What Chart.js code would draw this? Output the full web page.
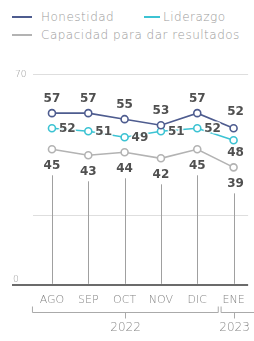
<!DOCTYPE html>
<html><head><meta charset="utf-8">
<script src="https://cdn.jsdelivr.net/npm/chart.js@4"></script>
<style>
html,body{margin:0;padding:0;background:#fff;overflow:hidden;}
#wrap{position:relative;width:254px;height:341px;}
canvas{position:absolute;left:0;top:0;}
.lg{position:absolute;font-family:'DejaVu Sans';font-weight:200;font-size:12px;letter-spacing:0.5px;color:#9a9a9a;white-space:nowrap;line-height:14px;}
.sw{position:absolute;height:2px;}
</style></head>
<body><div id="wrap">
<div class="sw" style="left:12px;top:16px;width:20px;background:#4e5c8f"></div>
<div class="lg" style="left:41px;top:10px">Honestidad</div>
<div class="sw" style="left:144px;top:16px;width:16px;background:#3cc3d3"></div>
<div class="lg" style="left:163px;top:10px">Liderazgo</div>
<div class="sw" style="left:12px;top:34px;width:20px;background:#b3b3b3"></div>
<div class="lg" style="left:41px;top:28px">Capacidad para dar resultados</div>
<canvas id="c" width="254" height="341"></canvas>
</div>
<script>
const months = ['AGO','SEP','OCT','NOV','DIC','ENE'];
const honestidad = [57,57,55,53,57,52];
const liderazgo = [52,51,49,51,52,48];
const capacidad = [45,43,44,42,45,39];
const yTicks = [0, 70/3, 70];
const yLabels = {0:'0', 70:'70'};
const years = [{label:'2022', from:0, to:4}, {label:'2023', from:5, to:5}];

const toPts = arr => arr.map((v,i)=>({x:i,y:v}));
const C1='#4e5c8f', C2='#3cc3d3', C3='#b3b3b3';

const overlay = {
  id:'overlay',
  beforeDatasetsDraw(chart){
    const ctx=chart.ctx, x=chart.scales.x, y=chart.scales.y;
    ctx.save();
    yTicks.forEach(v=>{
      const py=Math.round(y.getPixelForValue(v));
      if(v===0){
        ctx.strokeStyle='#6b6b6b'; ctx.lineWidth=2;
        ctx.beginPath(); ctx.moveTo(chart.chartArea.left,py); ctx.lineTo(chart.chartArea.right,py); ctx.stroke();
      } else {
        ctx.strokeStyle='#dedede'; ctx.lineWidth=1;
        ctx.beginPath(); ctx.moveTo(33,py+0.5); ctx.lineTo(chart.chartArea.right,py+0.5); ctx.stroke();
      }
      if(v===0||v===70){
        ctx.fillStyle='#9a9a9a'; ctx.font='200 9px "DejaVu Sans"'; ctx.textAlign='left';
        ctx.textBaseline = v===0 ? 'bottom' : 'middle';
        ctx.fillText(yLabels[v], v===0?13:15, v===0?py-1:py+1);
      }
    });
    const y0=y.getPixelForValue(0);
    ctx.strokeStyle='#a0a0a0'; ctx.lineWidth=1;
    capacidad.forEach((v,i)=>{
      const px=Math.round(x.getPixelForValue(i))+0.5;
      ctx.beginPath(); ctx.moveTo(px,y.getPixelForValue(v)+26); ctx.lineTo(px,y0-1); ctx.stroke();
    });
    ctx.strokeStyle='#aaaaaa'; ctx.lineWidth=1;
    ctx.fillStyle='#8a8a8a'; ctx.font='200 12px "DejaVu Sans"'; ctx.textAlign='center'; ctx.textBaseline='middle';
    years.forEach(yr=>{
      const a=x.getPixelForValue(yr.from), b=x.getPixelForValue(yr.to);
      const l = yr.from===0 ? a-20 : a-13;
      const r = yr.to===months.length-1 ? chart.width+5 : b+21;
      const m=(a+b)/2, by=312.5;
      ctx.beginPath();
      ctx.moveTo(l+0.5,by-6); ctx.lineTo(l+0.5,by); ctx.lineTo(r,by); ctx.lineTo(r,by-6);
      ctx.moveTo(Math.round(m)+0.5,by); ctx.lineTo(Math.round(m)+0.5,by+6);
      ctx.stroke();
      ctx.fillText(yr.label, m+1, 328);
    });
    ctx.restore();
  },
  afterDatasetsDraw(chart){
    const ctx=chart.ctx;
    ctx.save();
    ctx.font='bold 12px "DejaVu Sans"'; ctx.textBaseline='middle';
    ctx.lineJoin='round';
    chart.data.datasets.forEach((ds,di)=>{
      const meta=chart.getDatasetMeta(di);
      meta.data.forEach((pt,i)=>{
        let tx=pt.x, ty=pt.y, al='center';
        const last = i===ds.data.length-1;
        if(di===0){ ty=pt.y-(last?16:14); if(last) tx+=2; }
        else if(di===1){ if(last){ ty=pt.y+13; tx+=2; } else { tx=pt.x+7; al='left'; ty=pt.y+1; } }
        else { ty=pt.y+17; if(last) tx+=2; }
        ctx.textAlign=al;
        const s=String(ds.data[i].y);
        ctx.strokeStyle='rgba(255,255,255,0.85)'; ctx.lineWidth=3; ctx.strokeText(s,tx,ty);
        ctx.fillStyle='#505050'; ctx.fillText(s,tx,ty);
      });
    });
    ctx.restore();
  }
};

const mk=(label,data,color)=>({label,data:toPts(data),borderColor:color,backgroundColor:'#fff',
  borderWidth:1.6,pointRadius:3.5,pointBorderWidth:1.6,pointBackgroundColor:'#fff',pointBorderColor:color,tension:0});

new Chart(document.getElementById('c'),{
  type:'line',
  data:{datasets:[mk('Honestidad',honestidad,C1),mk('Liderazgo',liderazgo,C2),mk('Capacidad para dar resultados',capacidad,C3)]},
  options:{
    responsive:false,animation:false,
    layout:{padding:{left:12,right:0,top:74,bottom:25}},
    plugins:{legend:{display:false},tooltip:{enabled:false}},
    scales:{
      x:{type:'linear',min:-1.1,max:5.4,
        afterBuildTicks:s=>{s.ticks=months.map((m,i)=>({value:i}));},
        ticks:{callback:v=>months[v]||'',color:'#858585',font:{family:'DejaVu Sans',size:11,weight:'200'},padding:9,maxRotation:0,autoSkip:false},
        grid:{display:false,drawTicks:false},border:{display:false}},
      y:{min:0,max:70,display:false}
    }
  },
  plugins:[overlay]
});
</script>
</body></html>
